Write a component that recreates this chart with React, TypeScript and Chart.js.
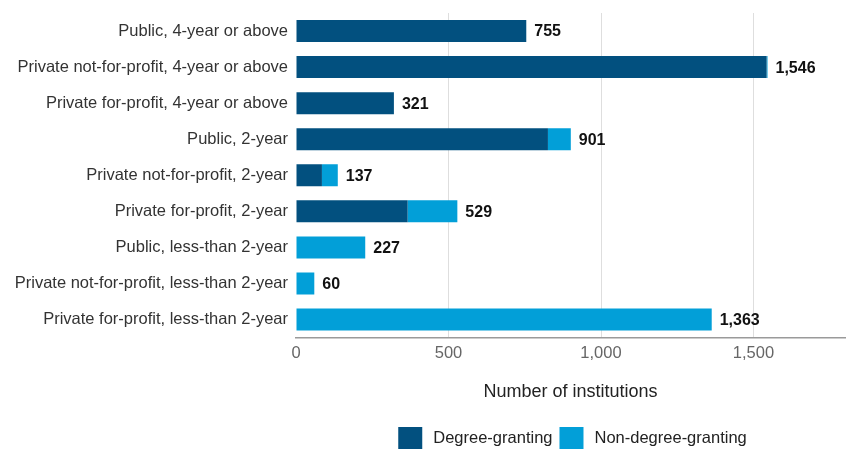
import React, { useEffect, useRef } from "react";
import { Chart, registerables } from "chart.js";

Chart.register(...registerables);

const categories = [
  "Public, 4-year or above",
  "Private not-for-profit, 4-year or above",
  "Private for-profit, 4-year or above",
  "Public, 2-year",
  "Private not-for-profit, 2-year",
  "Private for-profit, 2-year",
  "Public, less-than 2-year",
  "Private not-for-profit, less-than 2-year",
  "Private for-profit, less-than 2-year",
];
const degreeGranting = [755, 1543, 321, 826, 85, 366, 0, 0, 0];
const nonDegreeGranting = [0, 3, 0, 75, 52, 163, 227, 60, 1363];
const seriesNames = ["Degree-granting", "Non-degree-granting"];
const seriesColors = ["#02507f", "#029fd8"];
const xTicks = [0, 500, 1000, 1500];

const FONT = '"Liberation Sans", Arial, Helvetica, sans-serif';

const valueLabels = {
  id: "valueLabels",
  afterDatasetsDraw(chart: any) {
    const ctx = chart.ctx;
    const last = chart.getDatasetMeta(chart.data.datasets.length - 1);
    ctx.save();
    ctx.font = `bold 16px ${FONT}`;
    ctx.fillStyle = "#111";
    ctx.textAlign = "left";
    ctx.textBaseline = "middle";
    categories.forEach((_, i) => {
      const total = degreeGranting[i] + nonDegreeGranting[i];
      const el = last.data[i];
      ctx.fillText(total.toLocaleString("en-US"), el.x + 8, el.y + 1);
    });
    ctx.restore();
  },
};

const customLegend = {
  id: "customLegend",
  afterDraw(chart: any) {
    const ctx = chart.ctx;
    const area = chart.chartArea;
    ctx.save();
    ctx.font = `16.5px ${FONT}`;
    const box = 24;
    const gapText = 11;
    const gapItem = 7;
    const widths = seriesNames.map((n) => box + gapText + ctx.measureText(n).width);
    const total = widths.reduce((a, b) => a + b, 0) + gapItem * (seriesNames.length - 1);
    let x = (area.left + area.right) / 2 - total / 2 + 2;
    const top = 427;
    seriesNames.forEach((n, i) => {
      ctx.fillStyle = seriesColors[i];
      ctx.fillRect(x, top, box, box);
      ctx.fillStyle = "#222";
      ctx.textAlign = "left";
      ctx.textBaseline = "middle";
      ctx.fillText(n, x + box + gapText, top + 11);
      x += widths[i] + gapItem;
    });
    ctx.restore();
  },
};

export default function App() {
  const ref = useRef<HTMLCanvasElement | null>(null);
  useEffect(() => {
    if (!ref.current) return;
    const chart = new Chart(ref.current, {
      type: "bar",
      data: {
        labels: categories,
        datasets: [
          {
            label: seriesNames[0],
            data: degreeGranting,
            backgroundColor: seriesColors[0],
            barPercentage: 0.61,
            categoryPercentage: 1,
          },
          {
            label: seriesNames[1],
            data: nonDegreeGranting,
            backgroundColor: seriesColors[1],
            barPercentage: 0.61,
            categoryPercentage: 1,
          },
        ],
      },
      options: {
        indexAxis: "y",
        animation: false,
        responsive: true,
        maintainAspectRatio: false,
        layout: { padding: { top: 13, right: 1, bottom: 46, left: 0 } },
        plugins: {
          legend: { display: false },
          tooltip: { enabled: false },
        },
        scales: {
          x: {
            stacked: true,
            min: 0,
            max: 1800,
            afterBuildTicks(scale: any) {
              scale.ticks = xTicks.map((v) => ({ value: v }));
            },
            grid: {
              color: (c: any) => (c.tick && c.tick.value === 0 ? "rgba(0,0,0,0)" : "#dedede"),
              drawTicks: false,
              lineWidth: 1,
            },
            border: { display: true, color: "#9a9a9a", width: 1.5 },
            ticks: {
              padding: 6,
              color: "#666",
              font: { family: FONT, size: 16.5 },
              callback: (v: any) => Number(v).toLocaleString("en-US"),
            },
            title: {
              display: true,
              text: "Number of institutions",
              color: "#222",
              font: { family: FONT, size: 18 },
              padding: { top: 12, bottom: 0 },
            },
          },
          y: {
            stacked: true,
            afterFit(scale: any) {
              scale.width = 296;
              scale.paddingTop = 0;
              scale.paddingBottom = 0;
            },
            grid: { display: false, drawTicks: false },
            border: { display: false },
            ticks: {
              padding: 8,
              color: "#333",
              font: { family: FONT, size: 16.5 },
            },
          },
        },
      },
      plugins: [valueLabels, customLegend],
    } as any);
    return () => chart.destroy();
  }, []);
  return (
    <div style={{ position: "absolute", left: 0, top: 0, width: 846, height: 449, background: "#fff" }}>
      <canvas ref={ref} />
    </div>
  );
}
